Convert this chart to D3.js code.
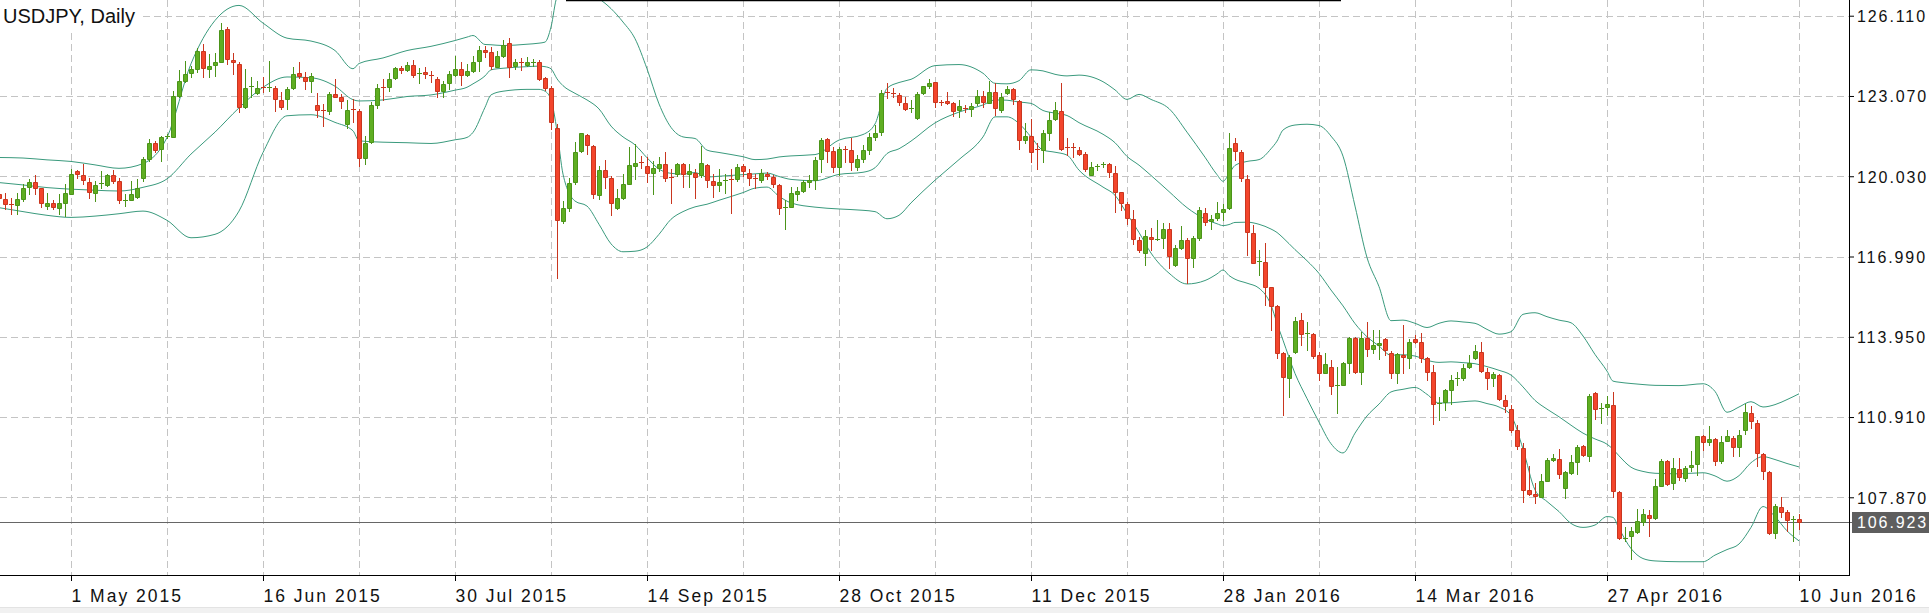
<!DOCTYPE html>
<html>
<head>
<meta charset="utf-8">
<script src="https://cdn.jsdelivr.net/npm/d3@7"></script>
<style>
html,body{margin:0;padding:0;background:#fff;overflow:hidden}
svg{display:block}
</style>
</head>
<body>
<svg id="chart" width="1929" height="613"></svg>
<script>
// ---------------- DATA ----------------
const chartTitle = "USDJPY, Daily";

// daily OHLC, one entry per trading day (bar index 0 .. 300)
const opens = [
119.37,119.18,118.97,118.93,119.18,119.63,119.82,119.57,118.89,119.02,
118.84,119.03,119.37,120.23,120.08,119.82,119.41,119.73,119.69,120.07,
119.85,119.12,119.13,119.26,119.98,120.68,121.29,121.06,121.52,121.53,
123.06,123.62,123.93,124.10,124.76,124.10,124.24,124.35,125.59,124.45,
124.29,122.64,123.40,123.19,123.40,123.38,123.38,122.93,122.94,123.36,
123.93,123.80,123.64,122.74,122.54,122.49,123.15,123.05,122.01,122.58,
122.51,120.72,121.31,122.73,123.42,123.40,123.74,124.13,124.06,124.26,
123.91,123.97,123.88,123.72,123.25,123.55,123.88,124.10,123.86,124.01,
124.39,124.82,124.73,124.16,124.60,125.08,124.20,124.37,124.25,124.32,
124.37,123.75,123.38,121.85,118.34,118.82,119.82,120.97,121.59,121.17,
119.31,120.26,119.98,118.84,119.19,119.75,120.40,120.57,120.41,120.17,
120.34,120.49,120.01,120.11,120.49,120.11,120.17,120.07,120.46,119.85,
119.69,119.84,119.92,119.94,120.42,120.17,119.97,119.90,120.13,120.00,
119.69,118.84,118.87,119.37,119.47,119.81,119.90,120.68,121.44,120.98,
120.38,121.08,121.02,120.38,120.70,121.02,121.51,121.71,123.22,123.20,
123.11,122.79,122.59,122.25,123.17,123.43,123.59,122.85,122.87,122.79,
122.54,122.63,122.56,122.82,123.07,122.82,123.21,122.54,123.20,123.34,
122.88,121.42,121.55,121.08,121.02,121.65,122.18,122.50,121.14,121.14,
121.02,120.89,120.09,120.38,120.45,120.49,120.16,119.42,118.99,118.42,
117.62,117.12,117.74,117.64,117.69,118.04,116.67,117.31,117.62,116.93,
117.69,118.64,118.35,118.45,118.67,118.83,121.30,120.95,119.93,117.88,
116.77,116.77,115.83,115.11,113.32,112.40,113.38,114.58,114.08,114.04,
113.25,112.58,112.79,112.10,112.14,112.94,113.89,112.62,113.92,113.47,
113.63,113.86,113.34,112.58,113.25,113.16,113.86,113.74,113.15,112.60,
111.42,111.48,111.95,112.35,112.37,112.79,113.13,113.36,112.60,112.39,
112.49,111.54,111.23,110.40,109.73,108.15,107.98,107.90,108.50,109.30,
109.33,108.21,108.78,109.19,109.80,109.42,111.82,111.23,111.29,111.38,
108.07,106.29,106.41,106.57,106.95,107.20,107.07,108.31,109.23,108.40,
108.93,108.59,109.00,109.12,110.18,109.95,110.09,109.23,110.01,110.11,
109.77,110.40,111.06,110.68,109.50,108.82,106.53,107.49,107.33,107.01,
107.05
];
const highs = [
119.41,119.41,119.22,119.41,119.75,119.92,120.08,119.60,119.41,119.12,
119.35,119.73,120.30,120.26,120.49,119.98,119.85,120.21,120.11,120.26,
119.98,119.35,119.85,119.94,120.74,121.44,121.37,121.56,121.63,123.27,
124.06,124.41,124.22,124.88,125.05,124.67,124.70,125.84,125.68,124.70,
124.35,124.10,123.78,123.65,123.78,124.41,123.46,123.21,123.42,124.16,
124.37,123.97,123.93,123.19,122.77,123.21,123.72,123.15,122.92,122.96,
122.58,121.56,122.83,123.53,123.72,123.93,124.16,124.22,124.35,124.44,
124.13,124.16,124.03,123.80,123.65,124.01,124.57,124.35,124.29,124.60,
124.98,124.95,124.92,124.79,125.20,125.27,124.48,124.51,124.54,124.46,
124.44,123.78,123.46,122.01,119.09,119.98,121.31,121.65,121.63,121.22,
120.42,120.64,120.04,119.54,120.11,121.12,121.25,120.80,120.74,120.61,
120.74,120.93,120.30,120.55,120.55,120.49,120.30,121.16,120.51,120.11,
120.30,120.11,120.30,120.49,120.49,120.30,120.11,120.32,120.20,120.07,
119.75,119.12,119.63,119.63,119.88,120.07,120.77,121.46,121.46,121.15,
121.15,121.17,121.49,120.83,121.21,121.65,121.97,123.30,123.55,123.36,
123.17,123.02,122.92,123.23,123.46,123.70,123.59,122.92,123.21,122.85,
122.92,122.73,122.82,123.30,123.26,123.65,123.55,123.17,123.43,123.36,
122.92,122.03,122.18,121.27,121.78,122.47,122.83,123.55,121.46,121.27,
121.12,120.96,120.58,120.51,120.58,120.54,120.41,119.44,119.06,118.74,
117.73,118.00,118.07,118.38,118.26,118.26,117.43,118.13,117.69,117.75,
118.85,118.83,118.57,119.04,118.99,121.68,121.49,121.02,120.06,118.19,
117.24,117.50,115.85,115.15,113.38,113.25,114.71,114.86,114.52,114.08,
113.38,113.34,113.06,112.81,113.00,113.95,113.95,114.14,114.51,114.20,
114.20,113.91,113.42,113.32,114.39,113.85,114.01,114.08,113.19,112.87,
111.67,111.99,112.49,112.62,112.90,113.25,113.63,113.74,112.75,112.62,
112.53,111.73,111.35,110.60,109.92,109.06,108.40,108.76,109.35,109.52,
109.69,108.85,109.48,109.86,109.86,111.79,111.85,111.44,111.70,111.86,
108.09,106.76,106.73,107.43,107.43,107.39,108.55,109.31,109.29,109.35,
109.35,109.06,109.61,110.21,110.24,110.58,110.11,110.18,110.43,110.18,
110.43,111.41,111.34,110.81,109.54,108.85,107.62,107.87,107.39,107.16,
107.23
];
const lows = [
119.09,118.78,118.59,118.59,119.09,119.35,119.37,118.87,118.78,118.78,
118.59,118.52,119.35,119.98,119.73,119.22,119.09,119.60,119.66,119.79,
119.03,118.90,119.12,119.22,119.85,120.61,120.93,120.61,121.48,121.51,
123.02,123.59,123.78,123.97,123.78,123.78,123.84,124.35,124.29,123.91,
122.45,122.61,123.02,123.15,123.21,123.25,122.49,122.58,122.58,123.34,
123.75,123.34,123.21,122.26,121.94,122.39,123.02,122.61,121.85,122.07,
120.42,120.49,121.27,122.60,122.92,123.27,123.72,123.93,124.03,123.80,
123.55,123.75,123.59,123.02,123.05,123.34,123.84,123.50,123.84,123.97,
124.01,124.54,124.10,124.16,124.54,123.78,124.10,124.06,124.19,124.22,
123.69,123.30,121.82,116.16,118.27,118.72,119.75,120.93,120.87,119.22,
119.18,119.60,118.55,118.78,119.16,119.73,119.92,120.34,119.82,119.37,
120.23,119.85,119.03,120.04,119.64,119.63,119.19,120.02,119.63,119.25,
119.47,119.41,118.65,119.85,120.04,119.69,119.60,119.81,119.94,119.63,
118.61,118.04,118.87,119.14,119.44,119.63,119.56,120.20,120.58,120.20,
120.07,120.58,120.28,120.26,120.58,120.89,121.40,121.59,122.98,123.05,
122.73,122.54,122.47,122.20,123.15,123.36,122.64,122.73,122.77,122.31,
122.26,122.47,122.31,122.73,122.67,122.79,122.35,122.47,123.13,122.77,
121.08,121.27,120.58,120.32,120.58,121.40,122.16,121.02,120.83,120.74,
120.83,120.23,120.07,120.26,120.38,120.00,118.68,118.74,118.23,117.47,
117.16,116.67,117.24,117.62,117.31,116.55,116.64,117.27,115.98,116.61,
117.60,118.19,118.03,118.38,118.38,118.79,120.66,119.84,117.05,116.74,
116.29,115.15,114.20,113.13,110.97,111.67,113.34,113.63,113.44,113.13,
112.33,112.56,111.80,111.06,112.11,112.56,112.58,112.17,113.22,113.32,
113.09,113.25,112.39,112.20,112.56,112.75,113.70,113.00,112.30,110.66,
110.81,111.19,111.42,112.11,112.30,112.75,113.09,112.62,111.99,112.08,
111.54,111.10,110.34,109.70,107.68,107.96,107.64,107.87,108.47,109.23,
108.59,107.83,108.75,108.75,109.42,109.26,110.83,110.68,111.00,107.90,
106.28,106.21,105.55,106.50,106.82,106.41,107.03,108.28,108.34,108.19,
108.53,108.47,108.85,108.72,109.67,109.86,109.10,109.16,109.99,109.42,
109.44,110.28,110.49,109.04,108.56,106.48,106.34,107.14,106.60,106.22,
106.66
];
const closes = [
119.19,118.97,118.93,119.16,119.60,119.83,119.60,119.00,119.02,118.88,
119.03,119.39,120.11,120.13,119.88,119.45,119.70,119.77,120.07,119.85,
119.13,119.14,119.35,119.60,120.68,121.29,121.03,121.53,121.54,123.08,
123.62,123.91,124.10,124.76,124.12,124.22,124.34,125.55,124.48,124.35,
122.64,123.38,123.44,123.38,123.36,123.41,122.94,122.66,123.34,123.91,
123.83,123.65,123.83,122.54,122.50,123.15,123.05,122.87,122.55,122.53,
120.72,121.29,122.73,123.38,123.38,123.72,124.12,124.06,124.25,123.88,
123.94,123.92,123.82,123.25,123.53,123.91,124.10,123.87,124.03,124.37,
124.82,124.73,124.20,124.60,125.01,124.16,124.37,124.32,124.34,124.36,
123.72,123.36,122.07,118.36,118.82,119.77,120.93,121.65,121.21,119.35,
120.26,120.02,119.00,119.19,119.73,120.45,120.53,120.55,120.17,120.34,
120.49,119.95,119.95,120.49,120.11,120.21,120.02,120.53,119.88,119.69,
119.82,119.88,119.87,120.39,120.21,119.98,119.93,120.16,120.03,119.73,
118.83,118.88,119.41,119.46,119.81,119.90,120.66,121.40,120.99,120.38,
121.08,121.03,120.58,120.70,121.02,121.50,121.68,123.20,123.17,123.15,
122.85,122.59,122.63,123.15,123.43,123.58,122.85,122.80,122.82,122.51,
122.69,122.58,122.69,123.07,122.85,123.21,122.60,123.05,123.32,122.94,
121.42,121.55,120.96,121.02,121.65,122.16,122.54,121.08,121.09,121.09,
120.89,120.30,120.38,120.42,120.49,120.20,119.44,119.02,118.46,117.66,
117.22,117.75,117.65,117.67,118.04,117.02,117.31,117.62,116.93,117.69,
118.76,118.28,118.41,118.64,118.80,121.11,120.98,119.97,117.90,116.76,
116.81,115.85,115.13,113.34,112.43,113.19,114.55,114.04,114.11,113.22,
112.56,112.91,112.10,112.14,112.96,113.92,112.62,113.92,113.47,113.63,
113.70,113.44,112.58,113.28,113.20,113.74,113.76,113.15,112.62,111.42,
111.46,111.92,112.33,112.39,112.75,112.97,113.41,112.66,112.40,112.53,
111.61,111.32,110.40,109.80,108.15,108.00,107.93,108.49,109.29,109.34,
108.75,108.81,109.19,109.77,109.47,111.72,111.21,111.27,111.42,108.09,
106.34,106.33,106.60,106.97,107.22,107.07,108.30,109.26,108.38,108.97,
108.63,108.97,109.10,110.18,109.95,110.07,109.23,109.97,110.18,109.77,
110.24,111.10,110.75,109.54,108.85,106.53,107.54,107.33,107.01,107.05,
106.92
];

// Bollinger band lines, read at these bar indices
const bandIdx = [
0,4,8,12,16,20,24,28,32,36,
40,44,48,52,56,59,60,64,68,72,
76,78,79,81,82,84,88,90,91,92,
93,94,96,98,100,102,104,106,108,110,
112,114,116,118,120,124,126,128,130,132,
136,140,144,146,148,150,152,156,160,164,
166,168,170,172,174,176,178,180,184,186,
188,190,192,195,198,201,203,204,205,206,
208,210,212,213,214,216,218,220,222,224,
226,228,230,232,234,236,238,240,242,244,
246,248,250,252,254,256,258,260,262,264,
266,268,269,270,272,274,276,280,284,286,
288,290,292,294,296,298,300
];
const bandUpper = [
120.74,120.72,120.65,120.59,120.46,120.33,120.51,121.50,124.29,125.93,
126.50,125.83,125.26,125.15,124.79,124.10,124.30,124.51,124.79,124.95,
125.17,125.30,125.36,125.02,125.01,124.98,125.03,125.07,125.11,125.68,
126.80,126.95,127.25,127.00,126.75,126.38,125.87,125.24,124.10,122.77,
121.88,121.52,121.46,121.02,120.93,120.77,120.66,120.68,120.76,120.80,
120.85,121.40,121.61,122.01,123.36,123.58,123.70,124.22,124.26,123.93,
123.55,123.53,123.65,124.06,124.02,123.89,123.83,123.86,123.61,123.30,
122.94,123.13,122.94,122.59,121.70,120.75,120.09,119.84,120.12,120.44,
120.59,120.66,121.07,121.36,121.78,121.97,122.00,121.95,121.55,120.79,
118.90,116.95,115.85,114.56,114.58,114.46,114.30,114.46,114.55,114.51,
114.46,114.23,114.05,114.14,114.80,114.86,114.71,114.58,114.48,113.98,
113.28,112.65,112.27,112.23,112.18,112.14,112.11,112.10,112.17,111.88,
111.09,111.29,111.49,111.29,111.38,111.57,111.79
];
const bandMiddle = [
119.79,119.70,119.60,119.54,119.50,119.47,119.61,119.93,120.87,121.70,
122.62,123.40,123.79,123.76,123.44,122.93,122.88,122.92,123.05,123.11,
123.29,123.40,123.53,123.83,124.06,124.12,124.18,124.20,124.18,124.10,
123.72,123.46,123.17,122.92,122.58,121.93,121.52,121.22,120.73,120.30,
120.14,120.11,120.17,120.00,120.03,120.09,120.12,120.15,120.02,119.91,
119.86,120.10,120.18,120.35,120.89,121.07,121.36,122.05,122.46,122.73,
122.92,122.91,122.84,122.79,122.52,122.42,122.33,122.06,121.62,121.30,
120.78,120.45,120.06,119.45,118.84,118.41,118.23,118.16,118.20,118.28,
118.29,118.21,118.03,117.90,117.70,117.25,116.83,116.35,115.72,115.12,
114.45,113.95,113.60,113.25,113.27,113.22,113.06,112.98,113.00,112.97,
112.93,112.82,112.68,112.50,112.05,111.54,111.21,110.92,110.60,110.30,
110.08,109.88,109.69,109.44,109.01,108.85,108.78,108.76,108.80,108.68,
108.48,108.69,109.18,109.41,109.30,109.15,109.02
];
const bandLower = [
118.84,118.69,118.55,118.47,118.52,118.61,118.71,118.36,117.70,117.83,
118.71,120.93,122.32,122.36,122.07,121.75,121.37,121.32,121.30,121.27,
121.41,121.50,121.69,122.64,123.11,123.25,123.32,123.32,123.25,122.93,
121.75,120.11,119.09,118.90,118.21,117.47,117.17,117.19,117.35,117.83,
118.40,118.69,118.87,118.97,119.12,119.41,119.58,119.62,119.27,119.02,
118.86,118.79,118.74,118.69,118.42,118.55,119.02,119.88,120.66,121.52,
122.28,122.28,122.03,121.52,121.02,120.94,120.83,120.26,119.62,119.31,
118.61,117.90,117.12,116.36,115.95,116.08,116.33,116.48,116.27,116.13,
115.98,115.79,115.15,114.46,113.82,112.56,111.61,110.72,109.90,109.55,
110.30,110.95,111.40,111.86,111.96,112.03,111.77,111.44,111.45,111.49,
111.52,111.42,111.29,110.97,109.70,108.15,107.71,107.33,106.88,106.73,
106.82,107.14,107.11,106.69,105.93,105.55,105.46,105.43,105.43,105.68,
105.89,106.10,106.73,107.52,107.14,106.60,106.22
];

// axis ticks
const priceTicks = [126.110, 123.070, 120.030, 116.990, 113.950, 110.910, 107.870];
const dateTickIdx = [12, 44, 76, 108, 140, 172, 204, 236, 268, 300];
const dateTickLabels = ["1 May 2015","16 Jun 2015","30 Jul 2015","14 Sep 2015","28 Oct 2015",
                        "11 Dec 2015","28 Jan 2016","14 Mar 2016","27 Apr 2016","10 Jun 2016"];
const gridEveryBars = 16;
const lastPrice = 106.923;

// ---------------- LAYOUT / STYLE ----------------
const W = 1929, H = 613;
const plotRight = 1849, plotBottom = 575;
const barStep = 6;
const upFill = "#5fae22", upStroke = "#4b9419";
const downFill = "#f3452c", downStroke = "#c9361f";
const bandColor = "#3a9a7d";
const gridColor = "#c4c4c4";
const axisFont = "'Liberation Sans', Arial, Helvetica, sans-serif";

const svg = d3.select("#chart");
const n = Math.min(opens.length, highs.length, lows.length, closes.length);

const x = d3.scaleLinear().domain([0, n - 1]).range([-1, -1 + barStep * (n - 1)]);
const y = d3.scaleLinear().domain([104.927, 126.705]).range([plotBottom, 0]);
const px = v => Math.round(v) + 0.5;

svg.append("rect").attr("width", W).attr("height", H).attr("fill", "#fff");

// bottom light strip
svg.append("rect").attr("x", 0).attr("y", 607).attr("width", W).attr("height", H - 607).attr("fill", "#f1f1f1");
svg.append("line").attr("x1", 0).attr("x2", W).attr("y1", 607.5).attr("y2", 607.5).attr("stroke", "#e3e3e3");

svg.append("defs").append("clipPath").attr("id", "plotClip")
  .append("rect").attr("x", 0).attr("y", 0).attr("width", plotRight).attr("height", plotBottom);

// grid
const grid = svg.append("g").attr("clip-path", "url(#plotClip)");
grid.selectAll("line.h").data(priceTicks).join("line").attr("class", "h")
  .attr("x1", 0).attr("x2", plotRight)
  .attr("y1", d => px(y(d))).attr("y2", d => px(y(d)))
  .attr("stroke", gridColor).attr("stroke-dasharray", "7,4");
const vGrid = d3.range(dateTickIdx[0] % gridEveryBars, n, gridEveryBars);
grid.selectAll("line.v").data(vGrid).join("line").attr("class", "v")
  .attr("x1", d => px(x(d))).attr("x2", d => px(x(d)))
  .attr("y1", 0).attr("y2", plotBottom)
  .attr("stroke", gridColor).attr("stroke-dasharray", "7,4");

// current price line
const lpY = px(y(lastPrice));
svg.append("line").attr("x1", 0).attr("x2", plotRight + 3).attr("y1", lpY).attr("y2", lpY)
  .attr("stroke", "#666").attr("stroke-width", 1);

// Bollinger bands
const plotG = svg.append("g").attr("clip-path", "url(#plotClip)");
const bandLine = arr => d3.line()
  .x((d, i) => x(bandIdx[i]))
  .y((d, i) => y(arr[i]))
  .curve(d3.curveMonotoneX)(arr);
[bandUpper, bandMiddle, bandLower].forEach(arr => {
  plotG.append("path").attr("d", bandLine(arr))
    .attr("fill", "none").attr("stroke", bandColor).attr("stroke-width", 1);
});

// candles
const candles = d3.range(n).map(i => ({i, o: opens[i], h: highs[i], l: lows[i], c: closes[i]}));
const cg = plotG.append("g");
cg.selectAll("line.wick").data(candles).join("line").attr("class", "wick")
  .attr("x1", d => px(x(d.i))).attr("x2", d => px(x(d.i)))
  .attr("y1", d => Math.round(y(d.h))).attr("y2", d => Math.round(y(d.l)) + 1)
  .attr("stroke", d => d.c >= d.o ? upStroke : downStroke).attr("stroke-width", 1);
cg.selectAll("path.body").data(candles).join("path").attr("class", "body")
  .attr("d", d => {
    const cx = px(x(d.i));
    const top = Math.round(y(Math.max(d.o, d.c))) + 0.5;
    const bot = Math.round(y(Math.min(d.o, d.c))) + 0.5;
    if (bot - top < 1.5) {
      return `M${cx - 2.5},${top}H${cx + 2.5}`;
    }
    return `M${cx - 2},${top}H${cx + 2}V${bot}H${cx - 2}Z`;
  })
  .attr("fill", d => d.c >= d.o ? upFill : downFill)
  .attr("stroke", d => d.c >= d.o ? upStroke : downStroke).attr("stroke-width", 1);

// top border segment seen in the reference
svg.append("line").attr("x1", 566).attr("x2", 1341).attr("y1", 0.5).attr("y2", 0.5)
  .attr("stroke", "#000").attr("stroke-width", 1.5);

// axes
const yAxis = d3.axisRight(y).tickValues(priceTicks).tickFormat(d3.format(".3f"))
  .tickSize(5).tickSizeOuter(0).tickPadding(3);
const yg = svg.append("g").attr("transform", `translate(${plotRight},0)`).call(yAxis);
yg.select(".domain").remove();
yg.selectAll(".tick line").attr("stroke", "#000");
yg.selectAll(".tick text").attr("fill", "#111")
  .style("font-family", axisFont).style("font-size", "16px").style("letter-spacing", "1.9px")
  .attr("x", 8).attr("dy", "0.36em");

const xAxis = d3.axisBottom(x).tickValues(dateTickIdx).tickFormat((d, i) => dateTickLabels[i])
  .tickSize(6).tickSizeOuter(0);
const xg = svg.append("g").attr("transform", `translate(0,${plotBottom})`).call(xAxis);
xg.select(".domain").remove();
xg.selectAll(".tick line").attr("stroke", "#000");
xg.selectAll(".tick text").attr("fill", "#111").attr("text-anchor", "start")
  .attr("x", 0).attr("y", 27).attr("dy", 0)
  .style("font-family", axisFont).style("font-size", "17.5px").style("letter-spacing", "2px");

// axis lines
svg.append("line").attr("x1", plotRight + 0.5).attr("x2", plotRight + 0.5).attr("y1", 0).attr("y2", plotBottom + 1)
  .attr("stroke", "#000");
svg.append("line").attr("x1", 0).attr("x2", plotRight + 1).attr("y1", plotBottom + 0.5).attr("y2", plotBottom + 0.5)
  .attr("stroke", "#000");

// current price label
svg.append("rect").attr("x", plotRight + 3).attr("y", lpY - 10.5).attr("width", W - plotRight - 3).attr("height", 21)
  .attr("fill", "#5e5e5e");
svg.append("text").attr("x", plotRight + 8).attr("y", lpY).attr("dy", "0.36em")
  .attr("fill", "#fff").style("font-family", axisFont).style("font-size", "16px").style("letter-spacing", "1.9px")
  .text(d3.format(".3f")(lastPrice));

// title
svg.append("rect").attr("x", 0).attr("y", 0).attr("width", 140).attr("height", 29).attr("fill", "#fff");
svg.append("text").attr("x", 3).attr("y", 23).attr("fill", "#111")
  .style("font-family", axisFont).style("font-size", "20px")
  .text(chartTitle);
</script>
</body>
</html>
